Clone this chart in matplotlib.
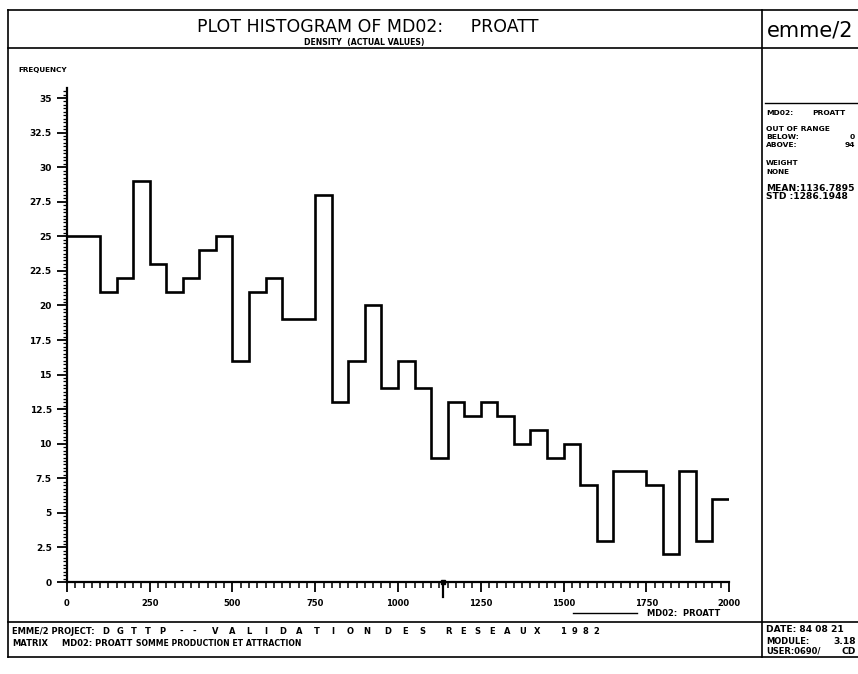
import numpy as np
import matplotlib
matplotlib.use("Agg")
import matplotlib.pyplot as plt
from matplotlib.lines import Line2D
from matplotlib.ticker import MultipleLocator, FixedLocator
from matplotlib.transforms import blended_transform_factory

# ---- data ----
bin_edges = np.arange(0, 2050, 50)
counts = [25, 25, 21, 22, 29, 23, 21, 22, 24, 25,
          16, 21, 22, 19, 19, 28, 13, 16, 20, 14,
          16, 14, 9, 13, 12, 13, 12, 10, 11, 9,
          10, 7, 3, 8, 8, 7, 2, 8, 3, 6]
x_ticks = [0, 250, 500, 750, 1000, 1250, 1500, 1750, 2000]
x_ticklabels = ["0", "250", "500", "750", "1000", "1250", "1500", "1750", "2000"]
y_ticks = [0, 2.5, 5, 7.5, 10, 12.5, 15, 17.5, 20, 22.5, 25, 27.5, 30, 32.5, 35]
y_ticklabels = ["0", "2.5", "5", "7.5", "10", "12.5", "15", "17.5", "20",
                "22.5", "25", "27.5", "30", "32.5", "35"]
mean_value = 1136.7895

W, H = 858, 674
fig = plt.figure(figsize=(W / 100, H / 100), dpi=100)
fig.patch.set_facecolor("white")

def fx(px):
    return px / W

def fy(py):
    return 1 - py / H

def hline(x0, x1, y, lw=1.2):
    fig.add_artist(Line2D([fx(x0), fx(x1)], [fy(y), fy(y)], color="black", lw=lw))

def vline(x, y0, y1, lw=1.2):
    fig.add_artist(Line2D([fx(x), fx(x)], [fy(y0), fy(y1)], color="black", lw=lw))

bold = dict(family="DejaVu Sans", fontweight="bold", color="black")

def txt(x, y, s, size=5.5, ha="left"):
    fig.text(fx(x), fy(y), s, ha=ha, va="center", fontsize=size, **bold)

def spaced(x0, x1, y, letters, size=6):
    # spread single letters evenly between x0 and x1
    n = len(letters)
    for i, ch in enumerate(letters):
        xc = x0 + (x1 - x0) * i / (n - 1) if n > 1 else x0
        fig.text(fx(xc), fy(y), ch, ha="center", va="center", fontsize=size, **bold)

# ---- frame boxes ----
hline(8, 858, 10)
hline(8, 858, 48)
hline(8, 858, 622)
hline(8, 858, 657)
vline(8, 10, 657)
vline(762, 10, 657)
hline(765, 858, 103, lw=1.0)

# ---- title ----
fig.text(fx(368), fy(27), "PLOT HISTOGRAM OF MD02:     PROATT",
         ha="center", va="center", fontsize=12.5,
         family=["Liberation Sans Narrow", "DejaVu Sans"], color="black")
txt(364, 43, "DENSITY  (ACTUAL VALUES)", size=5.6, ha="center")

# logo
fig.text(fx(767), fy(30), "emme/2", ha="left", va="center", fontsize=15,
         family="DejaVu Sans", color="black")

# ---- right panel ----
txt(766, 113, "MD02:", 5.4)
txt(812, 113, "PROATT", 5.4)
txt(766, 129, "OUT OF RANGE", 5.4)
txt(766, 137, "BELOW:", 5.4)
txt(855, 137, "0", 5.4, ha="right")
txt(766, 145, "ABOVE:", 5.4)
txt(855, 145, "94", 5.4, ha="right")
txt(766, 163, "WEIGHT", 5.2)
txt(766, 172, "NONE", 5.2)
txt(766, 188, "MEAN:1136.7895", 6.6)
txt(766, 197, "STD :1286.1948", 6.6)

txt(766, 630, "DATE: 84 08 21", 6.6)
txt(766, 641, "MODULE:", 6.0)
txt(856, 641, "3.18", 6.6, ha="right")
txt(766, 651, "USER:0690/", 6.0)
txt(856, 651, "CD", 6.6, ha="right")

# ---- bottom panel ----
txt(12, 631, "EMME/2 PROJECT:", 6)
spaced(106, 162, 631, "DGTTP")
spaced(181, 194, 631, "--")
spaced(215, 367, 631, "VALIDATION")
spaced(388, 422, 631, "DES")
spaced(448, 537, 631, "RESEAUX")
spaced(563, 596, 631, "1982")
txt(12, 643, "MATRIX", 6)
txt(62, 643, "MD02: PROATT", 6)
txt(136, 643, "SOMME PRODUCTION ET ATTRACTION", 5.6)

txt(18, 70, "FREQUENCY", 5.2)

# ---- axes ----
x0p, x1p = 67, 729
y0p = 582
ytop_val = 35.7
px_per_unit = (582 - 98) / 35.0
ytop_p = y0p - ytop_val * px_per_unit
ax = fig.add_axes([fx(x0p), fy(y0p), (x1p - x0p) / W, (y0p - ytop_p) / H])
ax.set_xlim(0, 2000)
ax.set_ylim(0, ytop_val)
ax.patch.set_alpha(0)
for s in ["top", "right"]:
    ax.spines[s].set_visible(False)
for s in ["left", "bottom"]:
    ax.spines[s].set_linewidth(1.6)

ax.stairs(counts, bin_edges, baseline=None, color="black", lw=1.9)

ax.xaxis.set_major_locator(FixedLocator(x_ticks))
ax.set_xticklabels(x_ticklabels)
ax.xaxis.set_minor_locator(MultipleLocator(25))
ax.yaxis.set_major_locator(FixedLocator(y_ticks))
ax.set_yticklabels(y_ticklabels)
ax.yaxis.set_minor_locator(MultipleLocator(0.25))
ax.tick_params(axis="x", which="major", direction="out", length=7, width=1.3, pad=5)
ax.tick_params(axis="x", which="minor", direction="out", length=4, width=1.1)
ax.tick_params(axis="y", which="major", direction="out", length=7, width=1.3, pad=4)
ax.tick_params(axis="y", which="minor", direction="out", length=3, width=0.9)
for lab in ax.get_xticklabels():
    lab.set_fontsize(6)
    lab.set_fontweight("bold")
    lab.set_family("DejaVu Sans")
for lab in ax.get_yticklabels():
    lab.set_fontsize(6.5)
    lab.set_fontweight("bold")
    lab.set_family("DejaVu Sans")

# mean marker on the axis
tr = blended_transform_factory(ax.transData, ax.transAxes)
ax.add_line(Line2D([mean_value, mean_value], [0, -0.03], transform=tr,
                   color="black", lw=1.6, clip_on=False))
ax.plot([mean_value], [0], marker="s", markersize=3.5, color="black", clip_on=False)

# legend
hline(573, 637, 613, lw=1.0)
txt(647, 613, "MD02:  PROATT", 6)

fig.savefig("out.png", dpi=100, facecolor="white")
